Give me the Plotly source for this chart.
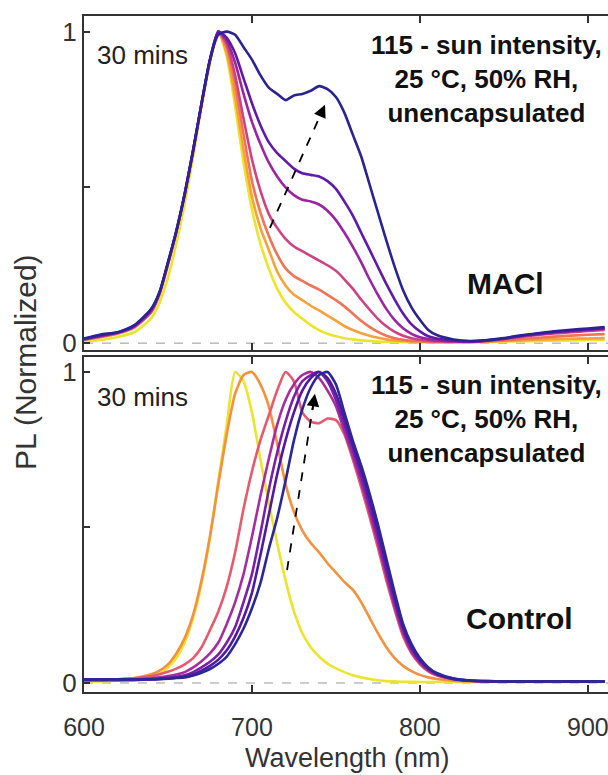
import plotly.graph_objects as go

# ---------------- data ----------------
WAVELENGTH = [600, 610, 620, 630, 640, 645, 650, 655, 660, 665, 670, 675, 680, 685, 690, 695,
              700, 705, 710, 715, 720, 725, 730, 735, 740, 745, 750, 755, 760, 765, 770, 775,
              780, 785, 790, 795, 800, 805, 810, 820, 830, 840, 850, 860, 870, 880, 890, 900, 910]

# MACl panel (earliest -> latest)
MACL_1 = [.005, .01, .02, .035, .08, .13, .21, .32, .45, .6, .76, .9, 1.0, .92, .76, .58,
          .43, .32, .24, .175, .13, .1, .078, .058, .042, .03, .022, .016, .012, .009, .007, .005,
          .004, .004, .003, .003, .003, .003, .003, .003, .003, .004, .005, .006, .007, .008, .009, .01, .01]
MACL_2 = [.01, .02, .03, .05, .1, .155, .25, .355, .475, .615, .765, .905, 1.0, .93, .79, .62,
          .47, .37, .3, .23, .185, .155, .138, .12, .105, .088, .072, .055, .042, .032, .024, .017,
          .012, .009, .007, .005, .004, .004, .003, .003, .003, .005, .007, .009, .011, .013, .014, .015, .016]
MACL_3 = [.012, .02, .032, .052, .1, .16, .255, .358, .478, .617, .767, .907, 1.0, .95, .83, .67,
          .52, .42, .345, .285, .24, .215, .2, .185, .172, .155, .138, .118, .095, .072, .052, .036,
          .024, .016, .011, .008, .006, .005, .004, .004, .004, .006, .009, .013, .017, .021, .024, .027, .029]
MACL_4 = [.012, .022, .033, .053, .1, .16, .255, .358, .478, .617, .767, .907, 1.0, .96, .86, .72,
          .59, .49, .415, .37, .335, .31, .295, .28, .265, .25, .232, .205, .175, .14, .108, .078,
          .054, .036, .024, .016, .011, .008, .006, .005, .005, .008, .013, .02, .026, .031, .035, .039, .042]
MACL_5 = [.013, .023, .033, .054, .105, .162, .257, .36, .48, .62, .768, .908, 1.0, .97, .9, .8,
          .71, .64, .58, .535, .5, .475, .46, .455, .445, .425, .395, .355, .31, .26, .205, .155,
          .11, .074, .048, .03, .019, .013, .009, .006, .005, .008, .014, .022, .028, .034, .038, .042, .046]
MACL_6 = [.014, .025, .034, .056, .108, .163, .258, .36, .48, .62, .77, .91, 1.0, .98, .93, .85,
          .77, .7, .645, .61, .585, .56, .545, .54, .535, .52, .495, .455, .41, .355, .3, .245,
          .19, .14, .095, .06, .038, .022, .015, .008, .006, .009, .015, .024, .03, .036, .04, .044, .048]
MACL_7 = [.015, .028, .035, .058, .11, .165, .26, .36, .48, .62, .77, .91, .99, 1.0, .99, .95,
          .91, .86, .82, .8, .78, .795, .8, .81, .825, .815, .79, .74, .67, .6, .51, .42,
          .33, .245, .17, .115, .075, .042, .026, .012, .007, .01, .016, .025, .032, .038, .043, .047, .052]

# Control panel (earliest -> latest)
CTRL_1 = [.005, .005, .007, .01, .02, .03, .05, .08, .13, .21, .32, .47, .65, .83, 1.0, .97,
          .87, .72, .58, .45, .33, .23, .16, .115, .085, .062, .047, .035, .025, .018, .013, .009,
          .006, .005, .004, .004, .003, .003, .003, .003, .003, .003, .003, .003, .003, .003, .003, .003, .003]
CTRL_2 = [.01, .01, .012, .016, .028, .04, .06, .095, .145, .22, .33, .47, .64, .8, .93, .99,
          1.0, .96, .89, .77, .64, .55, .49, .45, .42, .385, .355, .325, .3, .26, .21, .16,
          .115, .08, .055, .038, .026, .018, .013, .007, .005, .004, .004, .004, .004, .004, .004, .004, .004]
CTRL_3 = [.01, .01, .012, .015, .022, .028, .036, .046, .06, .08, .115, .17, .23, .31, .42, .56,
          .68, .78, .86, .94, 1.0, .97, .87, .84, .835, .85, .845, .8, .72, .63, .535, .435,
          .33, .235, .15, .095, .06, .037, .024, .011, .007, .005, .005, .005, .005, .005, .005, .005, .005]
CTRL_4 = [.01, .01, .01, .012, .015, .018, .022, .027, .035, .05, .07, .095, .13, .19, .26, .35,
          .47, .6, .72, .83, .91, .96, .99, 1.0, .98, .94, .89, .81, .73, .645, .55, .45,
          .345, .245, .16, .1, .065, .04, .026, .012, .007, .005, .005, .005, .005, .005, .005, .005, .005]
CTRL_5 = [.01, .01, .01, .01, .012, .014, .017, .02, .025, .035, .05, .068, .092, .13, .18, .26,
          .35, .48, .62, .74, .84, .92, .97, .99, 1.0, .97, .91, .83, .75, .665, .57, .47,
          .36, .26, .17, .11, .07, .044, .028, .013, .007, .005, .005, .005, .005, .005, .005, .005, .005]
CTRL_6 = [.01, .01, .01, .01, .011, .012, .014, .017, .02, .028, .04, .055, .075, .105, .15, .21,
          .29, .41, .54, .67, .78, .87, .94, .98, 1.0, .98, .93, .85, .765, .685, .59, .49,
          .38, .275, .18, .118, .075, .047, .03, .014, .008, .006, .005, .005, .005, .005, .005, .005, .005]
CTRL_7 = [.012, .012, .012, .012, .012, .013, .014, .016, .018, .024, .033, .045, .062, .085, .125, .175,
          .24, .32, .43, .53, .65, .78, .88, .95, .99, 1.0, .96, .87, .78, .7, .61, .51,
          .4, .29, .19, .125, .08, .05, .032, .014, .008, .006, .005, .005, .005, .005, .005, .005, .005]

MACL_SERIES = [MACL_1, MACL_2, MACL_3, MACL_4, MACL_5, MACL_6, MACL_7]
CTRL_SERIES = [CTRL_1, CTRL_2, CTRL_3, CTRL_4, CTRL_5, CTRL_6, CTRL_7]
MACL_COLORS = ["#ebe42c", "#f6a13a", "#ef7356", "#cf4281", "#9b24a0", "#5f1ba8", "#2a2391"]
CTRL_COLORS = ["#ebe42c", "#f4903e", "#e45a6e", "#a82d9c", "#7b1ea8", "#4f1aa2", "#2a2896"]

X_TICKS = [600, 700, 800, 900]
Y_TICKS = [0, 0.5, 1]
Y_TICKTEXT = ["0", "", "1"]

# ---------------- figure ----------------
FONT = "Liberation Sans, Arial, sans-serif"
AX = "#333333"
fig = go.Figure()

for vals, col in zip(MACL_SERIES, MACL_COLORS):
    fig.add_trace(go.Scatter(x=WAVELENGTH, y=vals, mode="lines", xaxis="x", yaxis="y",
                             line=dict(color=col, width=2.6, shape="spline", smoothing=0.6),
                             showlegend=False, hoverinfo="skip"))
for vals, col in zip(CTRL_SERIES, CTRL_COLORS):
    fig.add_trace(go.Scatter(x=WAVELENGTH, y=vals, mode="lines", xaxis="x2", yaxis="y2",
                             line=dict(color=col, width=2.6, shape="spline", smoothing=0.6),
                             showlegend=False, hoverinfo="skip"))

XL, XR = 84 / 608, 1.0
W, H = 608, 775
top_dom = [1 - 350 / H, 1 - 16 / H]
bot_dom = [1 - 692 / H, 1 - 357 / H]

xcommon = dict(range=[600, 912], domain=[XL, XR], showline=True, linecolor=AX, linewidth=2,
               mirror="ticks", ticks="inside", ticklen=7, tickwidth=1.5, tickcolor=AX,
               tickvals=X_TICKS, showgrid=False, zeroline=False, automargin=False,
               ticklabeloverflow="allow", ticklabelstandoff=12,
               tickfont=dict(family=FONT, size=25, color="#333"))
ycommon = dict(showline=True, linecolor=AX, linewidth=2, mirror=False, ticks="inside",
               ticklen=6, tickwidth=1.5, tickcolor=AX, tickvals=Y_TICKS, ticktext=Y_TICKTEXT,
               showgrid=False, zeroline=False, automargin=False, ticklabeloverflow="allow",
               tickfont=dict(family=FONT, size=26, color="#333"))

fig.update_layout(
    width=W, height=H, margin=dict(l=0, r=0, t=0, b=0, autoexpand=False),
    paper_bgcolor="white", plot_bgcolor="white",
    xaxis=dict(xcommon, anchor="y", showticklabels=False),
    yaxis=dict(ycommon, domain=top_dom, range=[-0.022, 1.05], anchor="x"),
    xaxis2=dict(xcommon, anchor="y2", showticklabels=True),
    yaxis2=dict(ycommon, domain=bot_dom, range=[-0.029, 1.048], anchor="x2"),
)

# dashed zero lines
for xr, yr in (("x", "y"), ("x2", "y2")):
    fig.add_shape(type="line", xref=xr, yref=yr, x0=600, x1=912, y0=0, y1=0,
                  line=dict(color="#999999", width=1, dash="dash"), layer="below")

# dashed arrows
ARROWS = [("x", "y", 710.7, 0.37, 743.5, 0.765), ("x2", "y2", 720.9, 0.363, 737.5, 0.93)]
for xr, yr, x0, y0, x1, y1 in ARROWS:
    fig.add_shape(type="line", xref=xr, yref=yr, x0=x0, y0=y0,
                  x1=x0 + (x1 - x0) * 0.93, y1=y0 + (y1 - y0) * 0.93,
                  line=dict(color="black", width=1.8, dash="dash"))
    fig.add_annotation(xref=xr, yref=yr, axref=xr, ayref=yr, x=x1, y=y1,
                       ax=x0 + (x1 - x0) * 0.9, ay=y0 + (y1 - y0) * 0.9,
                       text="", showarrow=True, arrowhead=2, arrowsize=1.4,
                       arrowwidth=1.8, arrowcolor="black")

def ann(text, x, y, size, color="#222"):
    fig.add_annotation(xref="paper", yref="paper", x=x / W, y=1 - y / H, text=text,
                       showarrow=False, xanchor="center", yanchor="middle",
                       font=dict(family=FONT, size=size, color=color))

ann("30 mins", 142, 55, 26)
ann("30 mins", 142, 397, 26)
cond = "<b>115 - sun intensity,<br>25 °C, 50% RH,<br>unencapsulated</b>"
ann(cond, 486, 79, 26, color="#111")
ann(cond, 486, 419, 26, color="#111")
ann("<b>MACl</b>", 505, 283, 30, color="#111")
ann("<b>Control</b>", 519, 618, 30, color="#111")

# axis titles
fig.add_annotation(xref="paper", yref="paper", x=26 / W, y=1 - 362 / H, text="PL (Normalized)",
                   showarrow=False, textangle=-90, xanchor="center", yanchor="middle",
                   font=dict(family=FONT, size=30, color="#333"))
ann("Wavelength (nm)", 347, 758, 27, color="#333")

fig.write_html("out.html")
